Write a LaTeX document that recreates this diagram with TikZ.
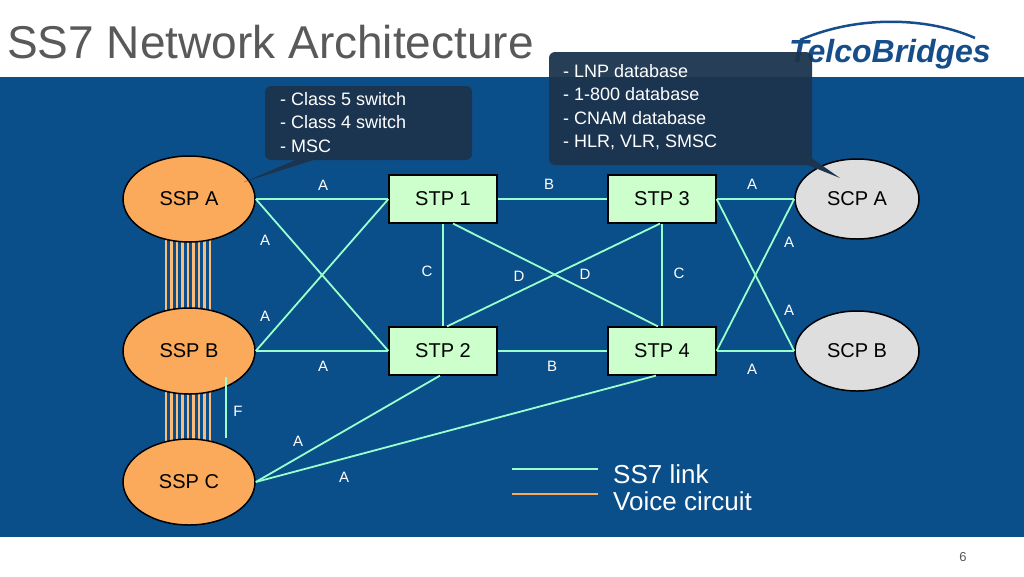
\documentclass[tikz,border=0pt]{standalone}
\usepackage{fontspec}
\setmainfont{Liberation Sans}
\usepackage{tikz}
\usetikzlibrary{calc,shapes.geometric}
\definecolor{slideblue}{RGB}{11,79,138}
\definecolor{linkgreen}{RGB}{153,255,204}
\definecolor{sspfill}{RGB}{250,170,90}
\definecolor{scpfill}{RGB}{222,222,222}
\definecolor{stpfill}{RGB}{204,255,204}
\definecolor{callfill}{RGB}{28,52,78}
\definecolor{titlegray}{RGB}{89,89,89}
\definecolor{logoblue}{RGB}{22,78,140}
\tikzset{
	ssp/.style={ellipse, draw=black, line width=1.5pt, fill=sspfill, minimum width=132pt, minimum height=86pt, font=\fontsize{20}{20}\selectfont},
	scp/.style={ssp, fill=scpfill, minimum width=124pt, minimum height=80pt},
	stp/.style={rectangle, draw=black, line width=1.2pt, fill=stpfill, minimum width=108pt, minimum height=48pt, font=\fontsize{20}{20}\selectfont},
	link/.style={linkgreen, line width=1.8pt},
	lbl/.style={text=white, font=\fontsize{15}{15}\selectfont},
	callout/.style={fill=callfill, fill opacity=0.95, rounded corners=6pt},
	calltext/.style={text=white, font=\fontsize{18}{23.5}\selectfont, align=left, anchor=north west, inner sep=0pt}
}
\begin{document}
\begin{tikzpicture}[x=1pt,y=-1pt]
	\useasboundingbox (0,0) rectangle (1024,576);
	\fill[white] (0,0) rectangle (1024,576);
	\fill[slideblue] (0,77) rectangle (1024,537);
	\node[anchor=west, text=titlegray, font=\fontsize{46}{46}\selectfont, inner sep=0pt] (title) at (7,42) {SS7 Network Architecture};
	\node[text=logoblue, font=\fontsize{32}{32}\selectfont\bfseries\itshape] (logo) at (890,54) {TelcoBridges};
	\draw[logoblue, line width=2.5pt] (800,40) .. controls (860,14) and (930,18) .. (975,38);
	\node[text=titlegray, font=\fontsize{13}{13}\selectfont] (page) at (963,557) {6};

	% voice circuits
	\foreach \x in {166,171.5,...,212} {
		\draw[sspfill!80!white, line width=2.5pt] (\x,238) -- (\x,312);
		\draw[sspfill!80!white, line width=2.5pt] (\x,388) -- (\x,445);
	}

	\node[ssp] (sspA) at (189,199) {SSP A};
	\node[ssp] (sspB) at (189,351) {SSP B};
	\node[ssp] (sspC) at (189,482) {SSP C};
	\node[scp] (scpA) at (857,199) {SCP A};
	\node[scp] (scpB) at (857,351) {SCP B};
	\node[stp] (stp1) at (443,199) {STP 1};
	\node[stp] (stp2) at (443,351) {STP 2};
	\node[stp] (stp3) at (662,199) {STP 3};
	\node[stp] (stp4) at (662,351) {STP 4};
	\coordinate (fTop) at (226,377);
	\coordinate (fBot) at (226,438);

	\draw[link] (sspA.east) -- (stp1.west);
	\draw[link] (sspA.east) -- (stp2.west);
	\draw[link] (sspB.east) -- (stp1.west);
	\draw[link] (sspB.east) -- (stp2.west);
	\draw[link] (stp1.east) -- (stp3.west);
	\draw[link] (stp2.east) -- (stp4.west);
	\draw[link] (stp1.south) -- (stp2.north);
	\draw[link] (stp3.south) -- (stp4.north);
	\draw[link] ($(stp1.south)+(10,0)$) -- ($(stp4.north)-(4,0)$);
	\draw[link] ($(stp3.south)-(2,0)$) -- ($(stp2.north)+(4,0)$);
	\draw[link] (stp3.east) -- (scpA.west);
	\draw[link] (stp3.east) -- (scpB.west);
	\draw[link] (stp4.east) -- (scpA.west);
	\draw[link] (stp4.east) -- (scpB.west);
	\draw[link] (sspC.east) -- ($(stp2.south)-(3,0)$);
	\draw[link] (sspC.east) -- ($(stp4.south)-(6,0)$);
	\draw[link] (fTop) -- (fBot);

	\node[lbl] at (323,185) {A};
	\node[lbl] at (265,240) {A};
	\node[lbl] at (265,316) {A};
	\node[lbl] at (323,366) {A};
	\node[lbl] at (549,184) {B};
	\node[lbl] at (552,366) {B};
	\node[lbl] at (427,271) {C};
	\node[lbl] at (679,273) {C};
	\node[lbl] at (519,276) {D};
	\node[lbl] at (585,274) {D};
	\node[lbl] at (752,184) {A};
	\node[lbl] at (789,242) {A};
	\node[lbl] at (789,310) {A};
	\node[lbl] at (752,369) {A};
	\node[lbl] at (238,411) {F};
	\node[lbl] at (298,441) {A};
	\node[lbl] at (344,477) {A};

	% callouts
	\fill[callfill] (300,158) -- (244,182) -- (320,158) -- cycle;
	\fill[callout] (265,86) rectangle (472,160);
	\node[calltext] (sspNote) at (280,92) {- Class 5 switch\\- Class 4 switch\\- MSC};
	\fill[callfill] (770,150) -- (840,178) -- (800,150) -- cycle;
	\fill[callout] (549,52) rectangle (812,165);
	\node[calltext] (scpNote) at (563,64) {- LNP database\\- 1-800 database\\- CNAM database\\- HLR, VLR, SMSC};

	% legend
	\coordinate (legA) at (512,469);
	\coordinate (legB) at (598,469);
	\coordinate (legC) at (512,494);
	\coordinate (legD) at (598,494);
	\draw[link] (legA) -- (legB);
	\draw[sspfill, line width=1.8pt] (legC) -- (legD);
	\node[anchor=west, text=white, font=\fontsize{26}{26}\selectfont, inner sep=0pt] (legLink) at (613,474) {SS7 link};
	\node[anchor=west, text=white, font=\fontsize{26}{26}\selectfont, inner sep=0pt] (legVoice) at (613,501) {Voice circuit};
\end{tikzpicture}
\end{document}
